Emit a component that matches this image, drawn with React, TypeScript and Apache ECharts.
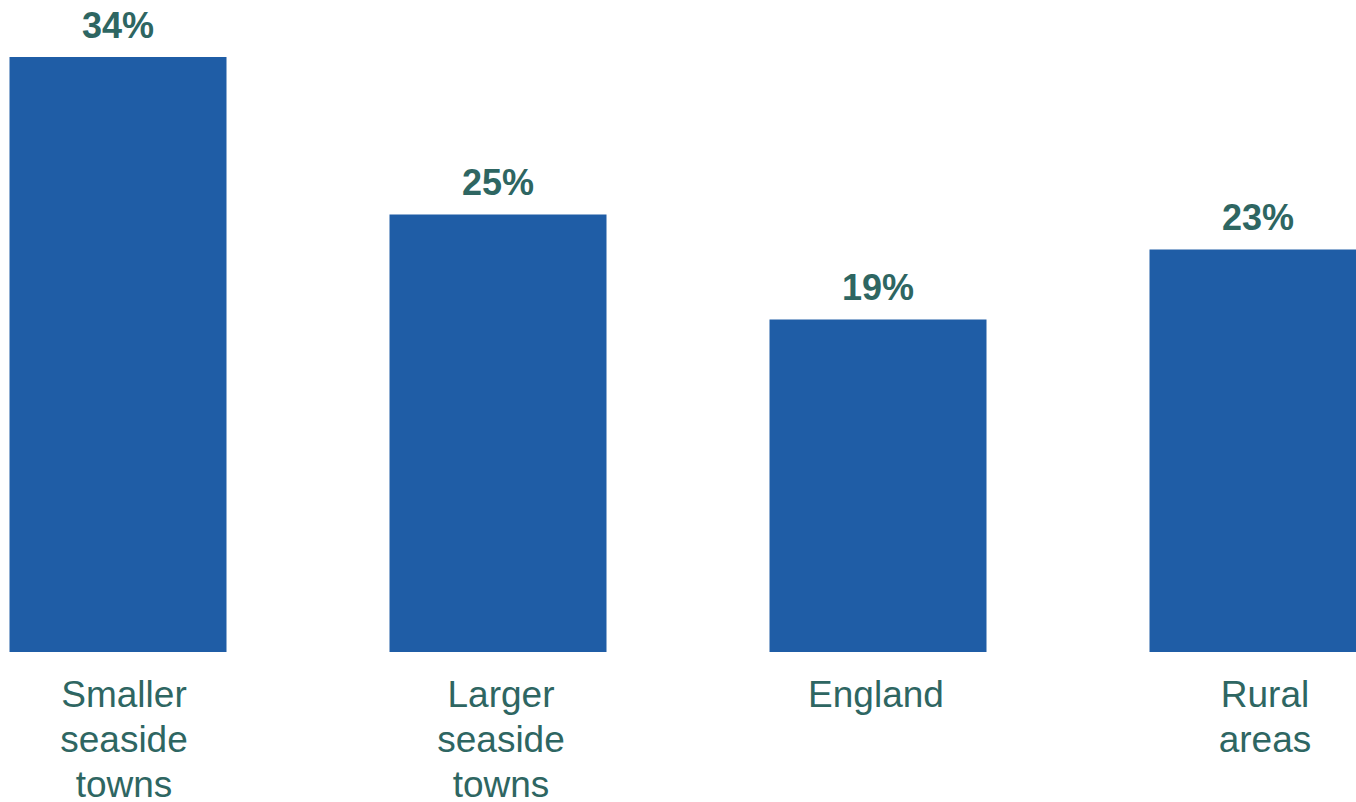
import React, { useEffect, useRef } from "react";
import * as echarts from "echarts";

const categories = ["Smaller\nseaside\ntowns", "Larger\nseaside\ntowns", "England", "Rural\nareas"];
const values = [34, 25, 19, 23];

const BAR = "#1F5DA6";
const TEXT = "#2E6662";
const FONT = "Liberation Sans, Arial, sans-serif";
// small horizontal nudges of the category labels (px) seen in the reference
const labelNudge = [6, 3, -2, 7];

export default function App() {
  const ref = useRef<HTMLDivElement>(null);
  useEffect(() => {
    const chart = echarts.init(ref.current!, null, { renderer: "svg" });
    const rich: Record<string, any> = {};
    labelNudge.forEach((n, i) => {
      rich["c" + i] = {
        color: TEXT,
        fontSize: 37,
        lineHeight: 45,
        fontFamily: FONT,
        padding: n >= 0 ? [0, 0, 0, 2 * n] : [0, -2 * n, 0, 0],
      };
    });
    chart.setOption({
      animation: false,
      grid: { left: 0, right: 0, top: 57, bottom: 150, containLabel: false, outerBoundsMode: "none" },
      xAxis: {
        type: "category",
        data: categories,
        axisLine: { show: false },
        axisTick: { show: false },
        axisLabel: {
          color: TEXT,
          fontSize: 37,
          lineHeight: 45,
          margin: 20,
          fontFamily: FONT,
          interval: 0,
          hideOverlap: false,
          formatter: (v: string, i: number) =>
            v.split("\n").map((l) => `{c${i}|${l}}`).join("\n"),
          rich,
        },
      },
      yAxis: {
        type: "value",
        min: 0,
        max: 34,
        show: false,
        splitLine: { show: false },
      },
      series: [
        {
          type: "bar",
          data: values,
          barWidth: 217,
          itemStyle: { color: BAR },
          label: {
            show: true,
            position: "top",
            distance: 14,
            formatter: "{c}%",
            color: TEXT,
            fontSize: 36,
            fontWeight: "bold",
            fontFamily: FONT,
          },
        },
      ],
    });
    return () => chart.dispose();
  }, []);
  return (
    <div style={{ position: "fixed", left: 0, top: 0, width: 1356, height: 802, overflow: "hidden", background: "#fff" }}>
      <div ref={ref} style={{ position: "absolute", left: -72.5, top: 0, width: 1520, height: 802 }} />
    </div>
  );
}
